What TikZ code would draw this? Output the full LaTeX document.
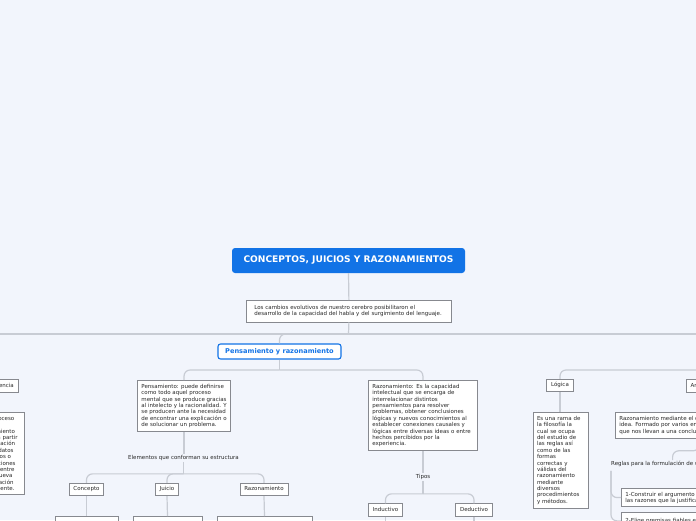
\documentclass[tikz,border=0pt]{standalone}
\usepackage{fontspec}
\setmainfont{DejaVu Sans}
\definecolor{bg}{RGB}{242,245,252}
\definecolor{linec}{RGB}{200,204,212}
\definecolor{boxc}{RGB}{135,137,143}
\definecolor{mmblue}{RGB}{18,115,230}
\definecolor{txt}{RGB}{40,40,40}
\tikzset{
  conn/.style={draw=linec, line width=1.2pt, rounded corners=6pt},
  tbox/.style={draw=boxc, fill=white, line width=0.8pt, text=txt,
    font=\fontsize{5.5}{6.35}\selectfont, align=left, inner xsep=4pt, inner ysep=4pt},
  lbox/.style={draw=boxc, fill=white, line width=0.8pt, text=txt,
    font=\fontsize{5.5}{6.35}\selectfont, inner xsep=4.3pt, inner ysep=0pt,
    text height=4.2pt, text depth=1.3pt, minimum height=12.5pt},
  lbl/.style={text=txt, font=\fontsize{5.5}{6.35}\selectfont, inner sep=1pt},
}
\begin{document}
\begin{tikzpicture}[x=1pt,y=-1pt]
\useasboundingbox (0,0) rectangle (696,520);
\fill[bg] (0,0) rectangle (696,520);
\clip (0,0) rectangle (696,520);

% ---------- nodes ----------
\node[fill=mmblue, rounded corners=3pt, minimum width=233pt, minimum height=25pt,
  text=white, font=\bfseries\fontsize{9.1}{10}\selectfont, inner sep=0pt]
  (title) at (348.5,260.5) {CONCEPTOS, JUICIOS Y RAZONAMIENTOS};

\node[tbox, anchor=north west, inner xsep=8pt, inner ysep=5pt, text width=189pt] (cambios) at (246,300)
  {Los cambios evolutivos de nuestro cerebro posibilitaron el\\desarrollo de la capacidad del habla y del surgimiento del lenguaje.};

\node[draw=mmblue, line width=1.1pt, fill=white, rounded corners=2.5pt, text=mmblue,
  font=\bfseries\fontsize{6.6}{8}\selectfont, minimum width=123pt, minimum height=15pt, inner sep=0pt]
  (pyr) at (279.5,351.5) {Pensamiento y razonamiento};

% left branch (partly outside the picture)
\node[lbox, anchor=east] (conc) at (18.5,386) {Conciencia};
\node[tbox, anchor=north east, text width=39pt] (concd) at (25,412)
  {\makebox[32.7pt][r]{Es el proceso}\\
   que\\
   \makebox[33.3pt][r]{conocimiento}\\
   \makebox[36pt][r]{a partir}\\
   \makebox[33.5pt][r]{de la relación}\\
   \makebox[32pt][r]{de datos}\\
   \makebox[29.5pt][r]{previos o}\\
   \makebox[34pt][r]{conexiones}\\
   \makebox[33pt][r]{lógicas entre}\\
   \makebox[31pt][r]{nueva}\\
   \makebox[32pt][r]{información}\\
   \makebox[33pt][r]{eficientemente.}};

% Pensamiento
\node[tbox, anchor=north west] (pens) at (137,380)
  {Pensamiento: puede definirse\\como todo aquel proceso\\mental que se produce gracias\\al intelecto y la racionalidad. Y\\se producen ante la necesidad\\de encontrar una explicación o\\de solucionar un problema.};
\node[lbl] (elem) at (183.5,458) {Elementos que conforman su estructura};
\node[lbox] (concepto) at (86.5,489.5) {Concepto};
\node[lbox] (juicio) at (167,489.5) {Juicio};
\node[lbox] (razon2) at (264,489.5) {Razonamiento};
\node[lbox, anchor=north, minimum width=63pt, minimum height=20pt] (conceptod) at (86.5,516) {};
\node[lbox, anchor=north, minimum width=69pt, minimum height=20pt] (juiciod) at (167.5,516) {};
\node[lbox, anchor=north, minimum width=95pt, minimum height=20pt] (razon2d) at (264.5,516) {};

% Razonamiento
\node[tbox, anchor=north west, text width=101pt] (razon) at (368,380)
  {Razonamiento: Es la capacidad\\intelectual que se encarga de\\interrelacionar distintos\\pensamientos para resolver\\problemas, obtener conclusiones\\lógicas y nuevos conocimientos al\\establecer conexiones causales y\\lógicas entre diversas ideas o entre\\hechos percibidos por la\\experiencia.};
\node[lbl] (tipos) at (423,477) {Tipos};
\node[lbox] (induc) at (385.5,510) {Inductivo};
\node[lbox] (deduc) at (474,510) {Deductivo};

% Lógica / Argumento
\node[lbox] (logica) at (560,385.5) {Lógica};
\node[tbox, anchor=north, text width=47pt] (logicad) at (560.5,412)
  {Es una rama de\\la filosofía la\\cual se ocupa\\del estudio de\\las reglas así\\como de las\\formas\\correctas y\\válidas del\\razonamiento\\mediante\\diversos\\procedimientos\\y métodos.};
\node[lbox, anchor=west] (arg) at (686,386) {Argumento};
\node[tbox, anchor=north west] (argd) at (615,412)
  {Razonamiento mediante el cual se pretende justificar una\\idea. Formado por varios enunciados o premisas\\que nos llevan a una conclusión.};
\node[lbl, anchor=west] (reglas) at (610,464) {Reglas para la formulación de un argumento};
\node[tbox, anchor=north west, inner ysep=3.2pt] (r1) at (621,488)
  {1-Construir el argumento distinguiendo la conclusión y\\las razones que la justifican.};
\node[tbox, anchor=north west, minimum height=17pt] (r2) at (621,512)
  {2-Elige premisas fiables e informadas.};

% ---------- connectors ----------
\coordinate (j1) at (348.5,334);
\coordinate (h1L) at (-20,334);
\coordinate (h1R) at (716,334);
\draw[conn] (title.south) -- (cambios.north);
\draw[conn] (cambios.south) -- (j1);
\draw[conn] (h1L) -- (h1R);
\draw[conn] (j1) -| (pyr.north);

\coordinate (j2) at (279.5,370);
\draw[conn] (pyr.south) -- (j2);
\draw[conn] (j2) -| (pens.north);
\draw[conn] (j2) -| (razon.north);

\coordinate (h2L) at (-30,370);
\draw[conn] (h2L) -| (conc.north);
\draw[conn] (conc.south) -- (conc.south |- concd.north);

\coordinate (h2R) at (760,370);
\draw[conn] (h2R) -| (logica.north);
\draw[conn] (h2R) -| (arg.north);
\draw[conn] (logica.south) -- (logica.south |- logicad.north);
\draw[conn] (arg.south) -- (arg.south |- argd.north);

\draw[conn] (pens.south) -- (pens.south |- elem.north);
\path (elem.south) ++(0,12) coordinate (j3);
\draw[conn] (elem.south) -- (j3);
\draw[conn] (j3) -| (concepto.north);
\draw[conn] (j3) -| (juicio.north);
\draw[conn] (j3) -| (razon2.north);
\draw[conn] (concepto.south) -- (conceptod.north);
\draw[conn] (juicio.south) -- (juiciod.north);
\draw[conn] (razon2.south) -- (razon2d.north);

\draw[conn] (razon.south) -- (razon.south |- tipos.north);
\path (tipos.south) ++(0,13) coordinate (j4);
\draw[conn] (tipos.south) -- (j4);
\draw[conn] (j4) -| (induc.north);
\draw[conn] (j4) -| (deduc.north);
\coordinate (indE) at ([yshift=-20pt]induc.south);
\coordinate (dedE) at ([yshift=-20pt]deduc.south);
\draw[conn] (induc.south) -- (indE);
\draw[conn] (deduc.south) -- (dedE);

\path (argd.south) ++(0,12) coordinate (j5);
\draw[conn] (argd.south) -- (j5) -| (reglas.north);
\coordinate (t0) at ([xshift=1pt,yshift=-3pt]reglas.south west);
\draw[conn] (t0) |- (r1.west);
\draw[conn] (t0) |- (r2.west);
\end{tikzpicture}
\end{document}
